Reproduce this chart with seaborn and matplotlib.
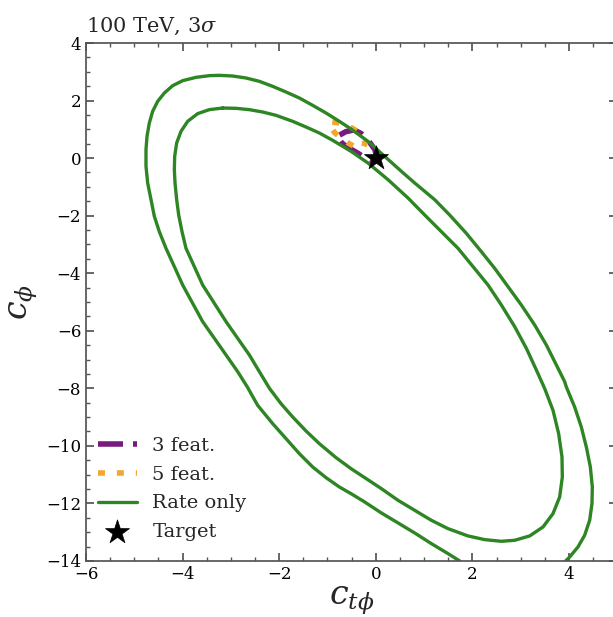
import numpy as np
import pandas as pd
import matplotlib
matplotlib.use("Agg")
import matplotlib.pyplot as plt
import seaborn as sns

# ---- data ----
# outer "rate only" contour (leaves the plot at the bottom)
outer_x = [1.736, 1.495, 1.150, 0.805, 0.460, 0.115, -0.231, -0.513, -0.755, -1.031, -1.307,
           -1.583, -1.859, -2.135, -2.446, -2.660, -2.860, -3.101, -3.343, -3.585, -3.792,
           -3.999, -4.171, -4.344, -4.482, -4.585, -4.654, -4.723, -4.758, -4.758, -4.737,
           -4.689, -4.620, -4.516, -4.378, -4.206, -3.999, -3.723, -3.447, -3.240, -2.963,
           -2.687, -2.411, -2.135, -1.859, -1.583, -1.307, -1.031, -0.755, -0.513, -0.162,
           0.183, 0.529, 0.805, 1.219, 1.529, 1.874, 2.185, 2.461, 2.737, 3.013, 3.289, 3.531,
           3.738, 3.910, 3.945, 4.117, 4.255, 4.359, 4.442, 4.483, 4.476, 4.428, 4.324, 4.186,
           4.014, 3.910]
outer_y = [-13.999, -13.744, -13.397, -13.026, -12.678, -12.331, -11.949, -11.660, -11.428,
           -11.104, -10.733, -10.270, -9.748, -9.227, -8.590, -7.953, -7.420, -6.841, -6.261,
           -5.682, -5.045, -4.408, -3.771, -3.134, -2.555, -2.023, -1.444, -0.865, -0.285,
           0.294, 0.757, 1.220, 1.626, 1.973, 2.263, 2.517, 2.691, 2.807, 2.865, 2.877, 2.853,
           2.784, 2.668, 2.494, 2.297, 2.089, 1.834, 1.568, 1.278, 1.012, 0.583, 0.062, -0.459,
           -0.864, -1.444, -1.976, -2.613, -3.250, -3.829, -4.466, -5.103, -5.798, -6.493,
           -7.188, -7.767, -7.953, -8.648, -9.343, -10.038, -10.733, -11.428, -12.007, -12.586,
           -13.107, -13.513, -13.860, -14.034]

# inner "rate only" contour (closed)
inner_x = [-3.170, -2.894, -2.618, -2.342, -2.066, -1.721, -1.445, -1.169, -0.893, -0.513,
           -0.162, 0.253, 0.667, 1.012, 1.357, 1.702, 2.013, 2.323, 2.599, 2.875, 3.117,
           3.324, 3.496, 3.669, 3.786, 3.855, 3.862, 3.807, 3.669, 3.462, 3.186, 2.875, 2.599,
           2.254, 1.909, 1.495, 1.150, 0.805, 0.460, 0.115, -0.231, -0.513, -0.824, -1.169,
           -1.445, -1.721, -1.963, -2.200, -2.411, -2.618, -2.860, -3.101, -3.343, -3.585,
           -3.757, -3.930, -4.012, -4.081, -4.123, -4.157, -4.171, -4.164, -4.123, -4.033,
           -3.895, -3.688, -3.447, -3.170]
inner_y = [1.741, 1.730, 1.684, 1.602, 1.487, 1.278, 1.081, 0.873, 0.618, 0.236, -0.170,
           -0.749, -1.386, -1.976, -2.555, -3.134, -3.771, -4.408, -5.103, -5.856, -6.609,
           -7.362, -8.005, -8.764, -9.575, -10.385, -11.080, -11.775, -12.354, -12.818, -13.130,
           -13.281, -13.316, -13.258, -13.130, -12.876, -12.586, -12.239, -11.891, -11.486,
           -11.103, -10.791, -10.408, -9.922, -9.482, -8.995, -8.532, -8.005, -7.420, -6.841,
           -6.261, -5.682, -5.045, -4.408, -3.771, -3.134, -2.555, -1.976, -1.444, -0.865,
           -0.401, 0.062, 0.525, 0.931, 1.278, 1.545, 1.684, 1.741]

feat3_x = [-0.75, -0.62, -0.45, -0.30, -0.15, -0.02, 0.02, -0.10, -0.22, -0.38, -0.57, -0.70, -0.77, -0.75]
feat3_y = [0.80, 0.92, 0.98, 0.85, 0.60, 0.30, 0.05, -0.08, 0.0, 0.18, 0.36, 0.52, 0.68, 0.80]

feat5_x = [-0.90, -0.75, -0.60, -0.45, -0.32, -0.22, -0.25, -0.38, -0.55, -0.70, -0.85, -0.92, -0.90]
feat5_y = [1.25, 1.22, 1.15, 1.00, 0.80, 0.55, 0.38, 0.35, 0.50, 0.68, 0.88, 1.05, 1.25]

target_x = [0.0]
target_y = [0.0]

labels = ["3 feat.", "5 feat.", "Rate only", "Target"]
title = "100 TeV, $3\\sigma$"
xlabel = "$c_{t\\phi}$"
ylabel = "$c_{\\phi}$"

# ---- style ----
sns.set_theme(style="ticks")
plt.rcParams["font.family"] = ["DejaVu Serif"]
plt.rcParams["mathtext.fontset"] = "dejavuserif"
plt.rcParams.update({
    "xtick.direction": "in", "ytick.direction": "in",
    "xtick.top": True, "ytick.right": True,
    "xtick.minor.visible": True, "ytick.minor.visible": True,
    "xtick.major.size": 6, "ytick.major.size": 6,
    "xtick.minor.size": 3, "ytick.minor.size": 3,
    "xtick.color": "#555555", "ytick.color": "#555555",
    "xtick.labelcolor": "black", "ytick.labelcolor": "black",
    "axes.edgecolor": "#555555",
    "lines.solid_joinstyle": "round",
})

purple = "#7a1a7e"
orange = "#f2a72f"
green = "#2e8523"

fig = plt.figure(figsize=(6.13, 6.17), dpi=100)
ax = fig.add_axes([0.1403, 0.0908, 0.8667, 0.8395])

sns.lineplot(x=feat3_x, y=feat3_y, sort=False, estimator=None, ax=ax, color=purple,
             lw=4, label=labels[0])
ax.lines[-1].set_linestyle((0, (4.5, 1.8)))
sns.lineplot(x=feat5_x, y=feat5_y, sort=False, estimator=None, ax=ax, color=orange,
             lw=4, label=labels[1])
ax.lines[-1].set_linestyle((0, (1.25, 2.15)))
sns.lineplot(x=outer_x, y=outer_y, sort=False, estimator=None, ax=ax, color=green,
             lw=2.4, label=labels[2])
sns.lineplot(x=inner_x, y=inner_y, sort=False, estimator=None, ax=ax, color=green,
             lw=2.4)
sns.scatterplot(x=target_x, y=target_y, ax=ax, marker="*", s=330, color="black",
                edgecolor="black", linewidth=0.5, zorder=5, label=labels[3])

ax.set_xlim(-6, 5)
ax.set_ylim(-14, 4)
ax.set_xticks([-6, -4, -2, 0, 2, 4])
ax.set_yticks(np.arange(-14, 5, 2))
ax.xaxis.set_minor_locator(matplotlib.ticker.MultipleLocator(0.5))
ax.yaxis.set_minor_locator(matplotlib.ticker.MultipleLocator(0.5))
ax.tick_params(labelsize=12)

ax.set_xlabel(xlabel, fontsize=24, labelpad=1)
ax.set_ylabel(ylabel, fontsize=24, labelpad=4)
ax.set_title(title, fontsize=15, loc="left", pad=8)

leg = ax.legend(loc="lower left", bbox_to_anchor=(-0.003, 0.012), frameon=False,
                fontsize=14, handlelength=2.0, borderaxespad=0.3, labelspacing=0.55)

fig.savefig("out.png", dpi=100)
